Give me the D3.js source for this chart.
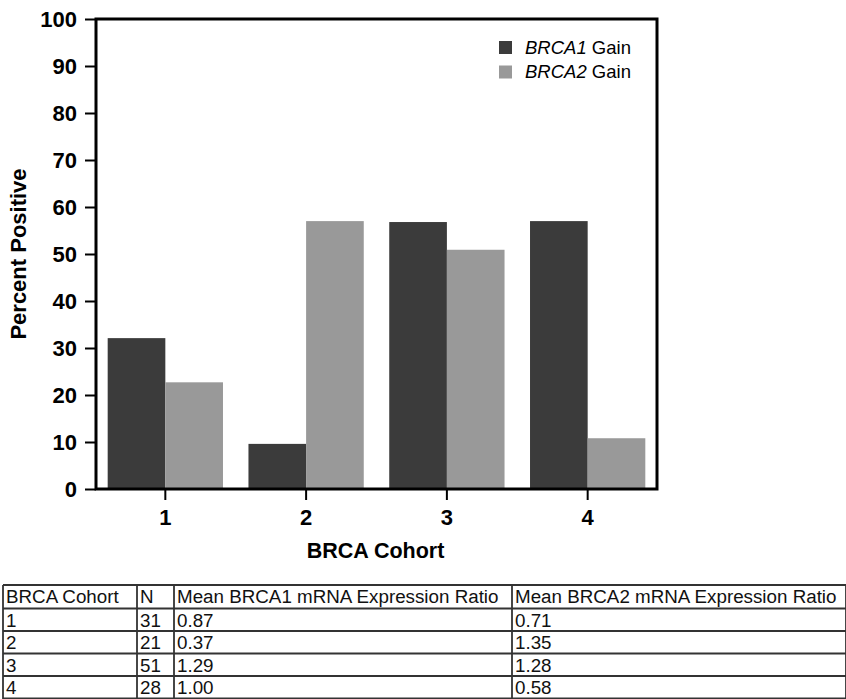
<!DOCTYPE html>
<html>
<head>
<meta charset="utf-8">
<script src="https://cdn.jsdelivr.net/npm/d3@7"></script>
<style>
  html, body { margin: 0; padding: 0; background: #fff; }
  svg { display: block; }
</style>
</head>
<body>
<svg id="chart" width="846" height="699"></svg>
<script>
const cohorts = ["1", "2", "3", "4"];
const seriesNames = ["BRCA1", "BRCA2"];
const brca1Gain = [32.1, 9.6, 56.8, 57.0];
const brca2Gain = [22.7, 57.0, 50.9, 10.8];
const yTicks = [0, 10, 20, 30, 40, 50, 60, 70, 80, 90, 100];
const tableHeader = ["BRCA Cohort", "N", "Mean BRCA1 mRNA Expression Ratio", "Mean BRCA2 mRNA Expression Ratio"];
const tableN = [31, 21, 51, 28];
const tableBRCA1 = ["0.87", "0.37", "1.29", "1.00"];
const tableBRCA2 = ["0.71", "1.35", "1.28", "0.58"];

const colors = { BRCA1: "#3b3b3b", BRCA2: "#999999" };
const font = "'Liberation Sans', Arial, Helvetica, sans-serif";

const svg = d3.select("#chart");
const m = { left: 96, right: 657, top: 19, bottom: 489 };

const x = d3.scaleBand().domain(cohorts).range([m.left, m.right])
  .paddingInner(0.181).paddingOuter(0.083);
const xs = d3.scaleBand().domain(seriesNames).range([0, x.bandwidth()]).padding(0);
const y = d3.scaleLinear().domain([0, 100]).range([m.bottom, m.top]);

const data = cohorts.map((c, i) => ({ c, vals: [
  { s: "BRCA1", v: brca1Gain[i] }, { s: "BRCA2", v: brca2Gain[i] } ] }));

// bars
const g = svg.append("g");
g.selectAll("g.grp").data(data).join("g")
  .attr("transform", d => `translate(${x(d.c)},0)`)
  .selectAll("rect").data(d => d.vals).join("rect")
  .attr("x", d => xs(d.s))
  .attr("width", xs.bandwidth())
  .attr("y", d => y(d.v))
  .attr("height", d => y(0) - y(d.v))
  .attr("fill", d => colors[d.s]);

// frame
svg.append("rect")
  .attr("x", m.left).attr("y", m.top)
  .attr("width", m.right - m.left).attr("height", m.bottom - m.top)
  .attr("fill", "none").attr("stroke", "#000").attr("stroke-width", 3);

// y axis
const yAxis = d3.axisLeft(y).tickValues(yTicks).tickSize(11).tickPadding(8);
const ya = svg.append("g").attr("transform", `translate(${m.left},0)`).call(yAxis);
ya.select(".domain").remove();
ya.selectAll("line").attr("stroke", "#000").attr("stroke-width", 2);
ya.selectAll("text").attr("font-family", font).attr("font-weight", "bold")
  .attr("font-size", 22).attr("fill", "#000").attr("dy", "0.36em");

// x axis
const xAxis = d3.axisBottom(x).tickSize(11).tickPadding(9);
const xa = svg.append("g").attr("transform", `translate(0,${m.bottom})`).call(xAxis);
xa.select(".domain").remove();
xa.selectAll("line").attr("stroke", "#000").attr("stroke-width", 2);
xa.selectAll("text").attr("font-family", font).attr("font-weight", "bold")
  .attr("font-size", 22).attr("fill", "#000");

// axis titles
svg.append("text").attr("x", (m.left + m.right) / 2 - 1).attr("y", 558)
  .attr("text-anchor", "middle").attr("font-family", font).attr("font-weight", "bold")
  .attr("font-size", 21.5).text("BRCA Cohort");
svg.append("text").attr("transform", `translate(26,${(m.top + m.bottom) / 2}) rotate(-90)`)
  .attr("text-anchor", "middle").attr("font-family", font).attr("font-weight", "bold")
  .attr("font-size", 22).text("Percent Positive");

// legend
const lg = svg.append("g");
seriesNames.forEach((s, i) => {
  const yy = 41 + i * 24.5;
  lg.append("rect").attr("x", 499).attr("y", yy).attr("width", 13).attr("height", 13)
    .attr("fill", colors[s]);
  const t = lg.append("text").attr("x", 525).attr("y", yy + 12.5)
    .attr("font-family", font).attr("font-size", 18.5).attr("fill", "#000");
  t.append("tspan").attr("font-style", "italic").text(s);
  t.append("tspan").text(" Gain");
});

// table
const colX = [3, 137, 174, 512, 846];
const rowY = [585, 608.5, 631, 653.5, 676, 698.5];
const tg = svg.append("g");
const rows = [tableHeader].concat(cohorts.map((c, i) => [c, String(tableN[i]), tableBRCA1[i], tableBRCA2[i]]));
rows.forEach((r, ri) => {
  r.forEach((cell, ci) => {
    tg.append("text").attr("x", colX[ci] + 3).attr("y", rowY[ri] + 18)
      .attr("font-family", font).attr("font-size", 18.8).attr("fill", "#111")
      .text(cell);
  });
});
rowY.forEach(yy => {
  tg.append("line").attr("x1", colX[0]).attr("x2", colX[4]).attr("y1", yy).attr("y2", yy)
    .attr("stroke", "#333").attr("stroke-width", 1.8);
});
colX.forEach(xx => {
  tg.append("line").attr("x1", xx).attr("x2", xx).attr("y1", rowY[0]).attr("y2", 699)
    .attr("stroke", "#333").attr("stroke-width", 1.8);
});
</script>
</body>
</html>
